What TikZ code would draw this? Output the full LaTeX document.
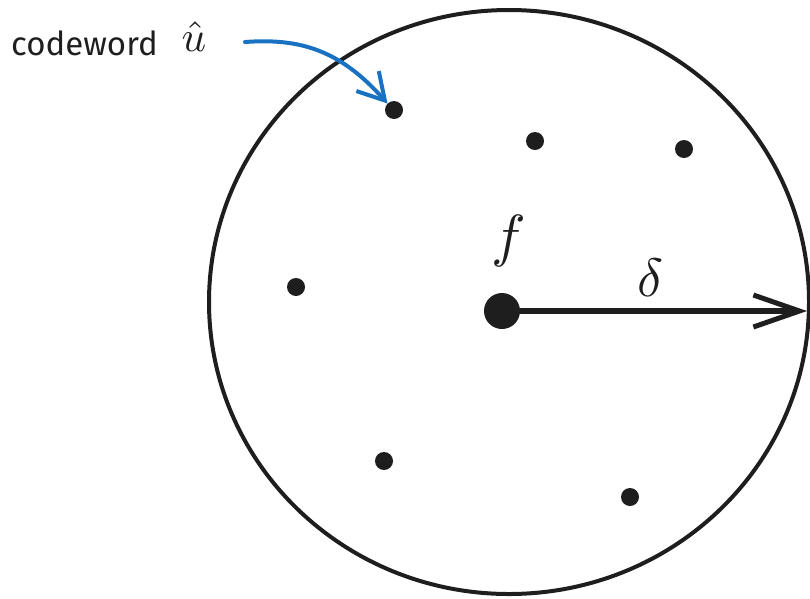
\documentclass[tikz,border=0pt]{standalone}
\usepackage{fontspec}
\setsansfont{Fira Sans}
\usetikzlibrary{arrows.meta}
\definecolor{ink}{HTML}{1E1E1E}
\definecolor{blueink}{HTML}{1971C2}
\begin{document}
\begin{tikzpicture}[x=1pt,y=-1pt,
  dotpt/.style={circle,fill=ink,inner sep=0pt,minimum size=18pt},
  bigdot/.style={circle,fill=ink,inner sep=0pt,minimum size=36pt},
  lbl/.style={text=ink,inner sep=0pt,font=\fontsize{10}{12}\selectfont}]
\useasboundingbox (0,0) rectangle (810,598);
\draw[ink,line width=4pt] (509,302) ellipse [x radius=300, y radius=292];
\node[bigdot] (f) at (502,311) {};
\coordinate (rim) at (807,311);
\draw[ink,line width=6pt,-{Straight Barb[length=46pt,width=32pt,line width=5pt]}] (f.center) -- (rim);
\node[lbl] (flbl) at (509,241) {\scalebox{5.8}{$f$}};
\node[lbl] (dlbl) at (651,278) {\scalebox{5.4}{$\delta$}};
\node[dotpt] (u) at (394,110) {};
\node[dotpt] (c2) at (535,141) {};
\node[dotpt] (c3) at (684,149) {};
\node[dotpt] (c4) at (296,287) {};
\node[dotpt] (c5) at (384,461) {};
\node[dotpt] (c6) at (630,497) {};
\node[anchor=west,text=ink,inner sep=0pt,font=\sffamily\fontsize{33}{38}\selectfont] (cw) at (11,43) {codeword};
\node[lbl] (uhat) at (194,37) {\scalebox{4.3}{$\hat{u}$}};
\coordinate (s) at (245,42);
\draw[blueink,line width=4pt,line cap=round,-{Straight Barb[length=26pt,width=30pt,line width=4pt]}] (s) .. controls (300,38) and (340,50) .. (u.north west);
\end{tikzpicture}
\end{document}
